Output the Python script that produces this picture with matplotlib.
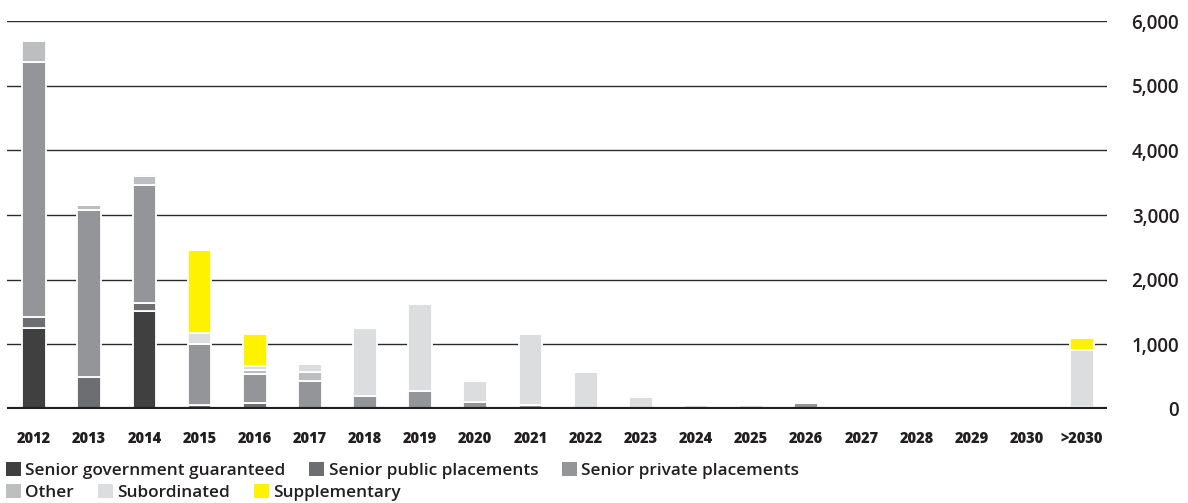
import numpy as np
import matplotlib.pyplot as plt
from matplotlib.patches import Patch

plt.rcParams['font.family'] = ['Open Sans', 'DejaVu Sans']

# ---------------------------------------------------------
# Data (maturity profile)
# ---------------------------------------------------------
years = ["2012", "2013", "2014", "2015", "2016", "2017", "2018", "2019", "2020", "2021",
         "2022", "2023", "2024", "2025", "2026", "2027", "2028", "2029", "2030", ">2030"]

gov_guaranteed = [1250, 0, 1510, 0, 0, 0, 0, 0, 0, 0,
                  0, 0, 0, 0, 0, 0, 0, 0, 0, 0]
public_placements = [180, 500, 125, 60, 96, 0, 0, 0, 0, 0,
                     0, 0, 0, 0, 0, 0, 0, 0, 0, 0]
private_placements = [3935, 2580, 1835, 950, 445, 440, 200, 285, 105, 55,
                      12, 0, 20, 5, 93, 0, 0, 0, 0, 35]
other = [325, 75, 140, 0, 69, 130, 0, 0, 0, 0,
         0, 0, 0, 0, 0, 0, 28, 0, 0, 0]
subordinated = [0, 0, 30, 170, 52, 125, 1047, 1338, 335, 1100,
                560, 186, 35, 55, 0, 0, 0, 0, 0, 880]
supplementary = [0, 0, 0, 1277, 492, 0, 0, 0, 0, 0,
                 0, 0, 0, 0, 0, 0, 0, 0, 0, 185]

series = [
    ("Senior government guaranteed", gov_guaranteed, "#404041"),
    ("Senior public placements", public_placements, "#6d6e71"),
    ("Senior private placements", private_placements, "#939598"),
    ("Other", other, "#bcbec0"),
    ("Subordinated", subordinated, "#dcddde"),
    ("Supplementary", supplementary, "#fff200"),
]

# ---------------------------------------------------------
# Plot
# ---------------------------------------------------------
fig = plt.figure(figsize=(11.88, 5.03), dpi=100)
ax = fig.add_axes([7 / 1188, 1 - 409 / 503, 1100 / 1188, 388 / 503])

x = np.arange(len(years))
bottom = np.zeros(len(years))
for name, vals, col in series:
    vals = np.array(vals, dtype=float)
    ax.bar(x, vals, width=0.43, bottom=bottom, color=col,
           edgecolor="white", linewidth=1.3, zorder=3)
    bottom += vals

ax.set_xlim(-0.49, 19.45)
ax.set_ylim(0, 6000)
ax.set_yticks(range(0, 6001, 1000))
ax.set_yticklabels([f"{v:,}" for v in range(0, 6001, 1000)])
ax.grid(axis="y", color="#2b2b2b", linewidth=1.0, zorder=1)
ax.axhline(0, color="#231f20", linewidth=3, zorder=4)

for s in ax.spines.values():
    s.set_visible(False)

ax.set_xticks(x)
ax.set_xticklabels(years, fontsize=10.5, fontweight="extra bold", color="#231f20")
ax.tick_params(axis="x", length=0, pad=16)

ax.yaxis.tick_right()
ax.tick_params(axis="y", length=0, pad=52, labelsize=13.5, labelcolor="#231f20")
for lab in ax.get_yticklabels():
    lab.set_horizontalalignment("right")
    lab.set_fontweight("semibold")

# legend in two rows
handles = [Patch(facecolor=col, edgecolor="none", label=name) for name, _, col in series]
leg_kw = dict(frameon=False, ncol=3, fontsize=12.4, handlelength=0.86, handleheight=0.86,
              handletextpad=0.25, columnspacing=1.4, borderpad=0, borderaxespad=0,
              loc="center left")
leg1 = fig.legend(handles=handles[:3], bbox_to_anchor=(6 / 1188, 1 - 470.5 / 503), **leg_kw)
leg2 = fig.legend(handles=handles[3:], bbox_to_anchor=(6 / 1188, 1 - 492.5 / 503), **leg_kw)
for leg in (leg1, leg2):
    for t in leg.get_texts():
        t.set_color("#231f20")
        t.set_fontweight("semibold")

fig.savefig("out.png", dpi=100)
